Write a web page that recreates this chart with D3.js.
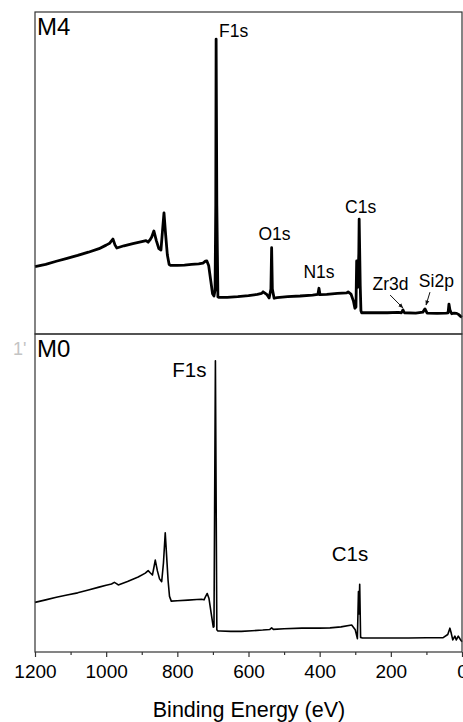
<!DOCTYPE html>
<html>
<head>
<meta charset="utf-8">
<script src="https://cdn.jsdelivr.net/npm/d3@7"></script>
<style>
  html, body { margin: 0; padding: 0; background: #fff; }
  svg { display: block; font-family: "Liberation Sans", Arial, sans-serif; }
</style>
</head>
<body>
<svg id="chart" width="463" height="722"></svg>
<script>
  "use strict";

  // M4 survey spectrum (binding energy eV / intensity a.u.)
  var m4Energy = [1200, 1170, 1140, 1110, 1080, 1050, 1020, 1000, 990, 981, 975, 970, 950, 925, 900, 888, 882, 877,
    872, 866, 859, 852, 846, 841, 837.5, 833, 828, 823, 818, 800, 780, 760, 740, 728, 721, 717, 712, 706, 701, 697,
    694, 692, 691, 689, 686, 683, 660, 630, 600, 575, 563, 559, 548, 542, 537, 535, 533, 528, 520, 490, 455, 420,
    405, 402, 399, 380, 350, 324, 320, 312, 305, 301, 298, 296, 293, 290, 289, 286, 284, 282, 250, 210, 180, 170,
    166, 162, 130, 110, 104, 98, 70, 45, 39, 36.7, 34, 29, 22, 15, 10, 3, 0];
  var m4Counts = [20.9, 21.6, 22.6, 23.5, 24.4, 25.4, 26.5, 27.6, 28.2, 29.5, 27.6, 26.7, 27.4, 28.1, 28.7, 29.0, 28.5, 29.2,
    30.1, 32.0, 29.0, 26.5, 26.1, 33.0, 37.6, 31.0, 24.5, 21.6, 21.3, 21.3, 21.4, 21.6, 21.8, 22.0, 22.6, 22.7, 21.3, 16.5, 12.5, 11.8,
    13.6, 40.0, 91.6, 40.0, 11.5, 11.4, 11.4, 11.6, 11.9, 12.3, 12.6, 13.1, 12.2, 11.2, 14.0, 26.8, 14.0, 11.1, 11.3, 11.6, 11.8, 12.1,
    12.3, 14.2, 12.2, 12.3, 12.6, 12.8, 13.1, 12.4, 10.2, 8.0, 8.4, 22.7, 14.5, 25.0, 35.7, 15.0, 7.2, 6.6, 6.6, 6.6, 6.7, 6.6,
    7.5, 6.6, 6.5, 6.8, 7.8, 6.5, 6.4, 6.5, 6.6, 9.3, 7.5, 6.3, 6.5, 6.4, 6.1, 5.4, 5.2];

  // M0 survey spectrum
  var m0Energy = [1200, 1170, 1140, 1110, 1080, 1050, 1020, 1000, 985, 977, 971, 966, 940, 910, 890, 882, 877, 870,
    866, 862, 856, 850, 844, 839, 834, 830, 826, 822, 817, 800, 770, 745, 732, 725, 720, 716, 711, 704, 699, 697,
    693, 689, 686, 684, 680, 650, 620, 590, 560, 540, 535, 530, 500, 450, 400, 371, 340, 310, 300, 294,
    291, 289.5, 287.5, 285, 280, 240, 200, 150, 100, 53, 40, 34, 30, 26, 20, 16, 10.5, 5, 0];
  var m0Counts = [15.6, 16.4, 17.2, 17.9, 18.6, 19.5, 20.4, 21.0, 21.4, 21.9, 21.5, 21.1, 22.2, 23.6, 24.8, 25.6, 25.0, 24.2,
    26.5, 28.9, 25.5, 23.0, 22.1, 28.0, 37.5, 30.0, 22.5, 17.5, 16.0, 16.1, 16.3, 16.5, 16.6, 16.4, 17.6, 18.4, 16.8, 11.5, 7.8, 8.0,
    91.6, 7.0, 6.6, 6.6, 6.6, 6.5, 6.5, 6.7, 6.9, 7.1, 7.6, 7.1, 7.3, 7.5, 7.5, 7.6, 7.9, 8.5, 7.0, 4.2,
    19.0, 12.0, 21.3, 4.6, 4.4, 4.4, 4.4, 4.4, 4.5, 4.5, 5.5, 7.5, 5.8, 3.8, 5.0, 3.8, 5.0, 4.0, 3.2];

  var xMajorTicks = [1200, 1000, 800, 600, 400, 200, 0];
  var xMinorTicks = [1100, 900, 700, 500, 300, 100];

  // peak labels: text, energy, intensity (label baseline)
  var m4Labels = [
    { text: 'F1s', e: 642, i: 92.2 },
    { text: 'O1s', e: 527, i: 29.2 },
    { text: 'N1s', e: 402, i: 17.4 },
    { text: 'C1s', e: 285, i: 37.6 },
    { text: 'Zr3d', e: 201, i: 13.7 },
    { text: 'Si2p', e: 72, i: 14.6 }
  ];
  var m4Arrows = [
    { e0: 202, i0: 12.1, e1: 166, i1: 8.1 },
    { e0: 90, i0: 13.0, e1: 101, i1: 9.0 }
  ];
  var m0Labels = [
    { text: 'F1s', e: 766, i: 86.5 },
    { text: 'C1s', e: 315, i: 28.6 }
  ];

  var svg = d3.select('#chart');
  var left = 35, right = 462;

  var x = d3.scaleLinear().domain([1200, 0]).range([left, right]);

  var panels = [
    { name: 'M4', top: 12, bottom: 334, energy: m4Energy, counts: m4Counts, labels: m4Labels,
      arrows: m4Arrows, stroke: 2.8, labelSize: 17.5 },
    { name: 'M0', top: 334, bottom: 652, energy: m0Energy, counts: m0Counts, labels: m0Labels,
      arrows: [], stroke: 1.6, labelSize: 20.5 }
  ];

  svg.append('defs').append('marker')
    .attr('id', 'arrow')
    .attr('viewBox', '0 0 10 10')
    .attr('refX', 9).attr('refY', 5)
    .attr('markerWidth', 5).attr('markerHeight', 5)
    .attr('orient', 'auto')
    .append('path')
    .attr('d', 'M0,1L10,5L0,9Z')
    .attr('fill', '#111');

  panels.forEach(function(p) {
    var y = d3.scaleLinear().domain([0, 100]).range([p.bottom, p.top]);
    var g = svg.append('g');

    var line = d3.line()
      .x(function(d) { return x(d[0]); })
      .y(function(d) { return y(d[1]); });

    var pts = p.energy.map(function(e, idx) { return [e, p.counts[idx]]; });

    g.append('path')
      .datum(pts)
      .attr('d', line)
      .attr('fill', 'none')
      .attr('stroke', '#000')
      .attr('stroke-width', p.stroke)
      .attr('stroke-linejoin', 'round');

    // frame
    g.append('rect')
      .attr('x', left).attr('y', p.top)
      .attr('width', right - left).attr('height', p.bottom - p.top)
      .attr('fill', 'none')
      .attr('stroke', '#333')
      .attr('stroke-width', 1.2);

    g.append('text')
      .attr('x', left + 2).attr('y', p.top + 23)
      .attr('font-size', 24)
      .text(p.name);

    g.selectAll('text.peak')
      .data(p.labels)
      .enter().append('text')
      .attr('class', 'peak')
      .attr('x', function(d) { return x(d.e); })
      .attr('y', function(d) { return y(d.i); })
      .attr('text-anchor', 'middle')
      .attr('font-size', p.labelSize)
      .text(function(d) { return d.text; });

    g.selectAll('line.arrow')
      .data(p.arrows)
      .enter().append('line')
      .attr('class', 'arrow')
      .attr('x1', function(d) { return x(d.e0); })
      .attr('y1', function(d) { return y(d.i0); })
      .attr('x2', function(d) { return x(d.e1); })
      .attr('y2', function(d) { return y(d.i1); })
      .attr('stroke', '#111')
      .attr('stroke-width', 1)
      .attr('marker-end', 'url(#arrow)');
  });

  // stray tick label remnant at the left edge
  svg.append('text')
    .attr('x', 13).attr('y', 355)
    .attr('font-size', 18)
    .attr('fill', '#c4c4c4')
    .text('1\'');

  // bottom axis
  var axisY = 652;
  var major = d3.axisBottom(x).tickValues(xMajorTicks).tickSize(5).tickPadding(8).tickFormat(d3.format('d'));
  var ax = svg.append('g').attr('transform', 'translate(0,' + axisY + ')').call(major);
  ax.select('.domain').remove();
  ax.selectAll('line').attr('stroke', '#333').attr('stroke-width', 1.2);
  ax.selectAll('text').attr('font-size', 19).attr('fill', '#000')
    .attr('font-family', '"Liberation Sans", Arial, sans-serif');

  var minor = d3.axisBottom(x).tickValues(xMinorTicks).tickSize(3).tickFormat('');
  var axm = svg.append('g').attr('transform', 'translate(0,' + axisY + ')').call(minor);
  axm.select('.domain').remove();
  axm.selectAll('line').attr('stroke', '#333').attr('stroke-width', 1.2);

  svg.append('text')
    .attr('x', 249).attr('y', 717)
    .attr('text-anchor', 'middle')
    .attr('font-size', 21.5)
    .text('Binding Energy (eV)');
</script>
</body>
</html>
